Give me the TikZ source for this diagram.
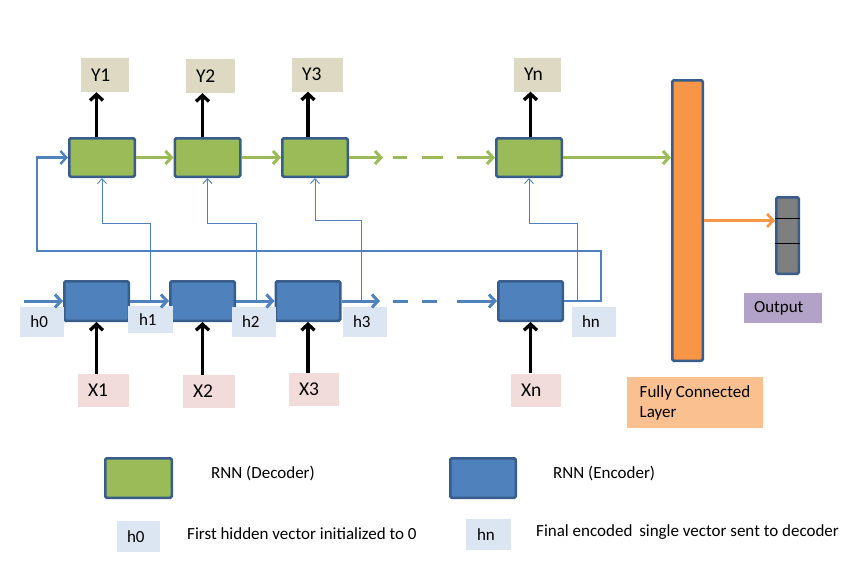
\documentclass[tikz,border=0pt]{standalone}
\usepackage{fontspec}
\setmainfont{Carlito}
\usetikzlibrary{arrows.meta,calc}
\definecolor{gfill}{HTML}{9BBB59}
\definecolor{bfill}{HTML}{4F81BD}
\definecolor{bord}{HTML}{385D8A}
\definecolor{ycol}{HTML}{DDD9C3}
\definecolor{xcol}{HTML}{F2DCDB}
\definecolor{hcol}{HTML}{DCE6F2}
\definecolor{fccol}{HTML}{F79646}
\definecolor{fclab}{HTML}{FAC090}
\definecolor{outcol}{HTML}{7F7F7F}
\definecolor{outlab}{HTML}{B3A2C7}
\newcommand\bigf{\fontsize{19.5}{22}\selectfont}
\newcommand\midf{\fontsize{17}{20}\selectfont}
\begin{document}
\begin{tikzpicture}[x=1pt,y=-1pt,
  cell/.style={draw=bord, line width=2.5pt, rounded corners=1.5pt, inner sep=0pt},
  dec/.style={cell, fill=gfill, minimum width=65.5pt, minimum height=38.5pt},
  enc/.style={cell, fill=bfill, minimum width=64.5pt, minimum height=39.5pt},
  lbl/.style={text width=#1, inner xsep=10pt, inner ysep=0pt, align=left},
  ylab/.style={lbl=#1, fill=ycol, minimum height=34pt, font=\bigf},
  xlab/.style={lbl=#1, fill=xcol, minimum height=33pt, font=\bigf},
  hlab/.style={lbl=#1, fill=hcol, minimum height=30pt, font=\midf},
  legtext/.style={anchor=west, inner sep=0pt, font=\midf},
  blk/.style={draw=black, line width=3.3pt, -{Straight Barb[length=6pt,width=13pt]}},
  garr/.style={draw=gfill, line width=3pt, -{Straight Barb[length=6pt,width=13pt]}},
  gline/.style={draw=gfill, line width=3pt},
  barr/.style={draw=bfill, line width=3pt, -{Straight Barb[length=6pt,width=13pt]}},
  bline/.style={draw=bfill, line width=3pt},
  thinb/.style={draw=bfill, line width=0.9pt, -{Straight Barb[length=5pt,width=9pt]}},
  fbk/.style={draw=bfill, line width=2.4pt, -{Straight Barb[length=6pt,width=13pt]}},
  oarr/.style={draw=fccol, line width=2.7pt, -{Straight Barb[length=6pt,width=13pt]}}
]
\useasboundingbox (0,0) rectangle (859,562);

% decoder cells
\node[dec] (d1) at (102,157.5) {};
\node[dec] (d2) at (207.5,157.5) {};
\node[dec] (d3) at (315,157.5) {};
\node[dec] (dn) at (529,157.5) {};
% encoder cells
\node[enc] (e1) at (96.5,301) {};
\node[enc] (e2) at (202.5,301) {};
\node[enc] (e3) at (308,301) {};
\node[enc] (en) at (530.5,301) {};

% output labels
\node[ylab=28pt] (Y1) at (105,75) {Y1};
\node[ylab=29pt] (Y2) at (210.5,76) {Y2};
\node[ylab=31pt] (Y3) at (317.5,74.5) {Y3};
\node[ylab=27pt] (Yn) at (537.5,74.5) {Yn};
% input labels
\node[xlab=31pt] (X1) at (103.5,390.5) {X1};
\node[xlab=32pt] (X2) at (209,391.5) {X2};
\node[xlab=30pt] (X3) at (314,389.5) {X3};
\node[xlab=30pt] (Xn) at (536,390) {Xn};
% hidden labels
\node[hlab=22pt, inner xsep=11pt] (h0) at (41.5,322) {h0};
\node[hlab=23pt, inner xsep=11pt, minimum height=27pt] (h1) at (150.5,319.5) {h1};
\node[hlab=24pt] (h2) at (254,322) {h2};
\node[hlab=24pt] (h3) at (365,322) {h3};
\node[hlab=24pt] (hn) at (594,322) {hn};

% fully connected and output
\node[cell, fill=fccol, minimum width=30.5pt, minimum height=280.5pt] (fc) at (687.5,220.5) {};
\node[cell, fill=outcol, minimum width=22.5pt, minimum height=76.5pt] (out) at (787.5,235.5) {};
\draw[black, line width=0.9pt] (out.west |- 0,218) -- (out.east |- 0,218);
\draw[black, line width=0.9pt] (out.west |- 0,243) -- (out.east |- 0,243);
\node[lbl=58pt, fill=outlab, minimum height=30pt, font=\midf] (outl) at (783,308) {Output};
\node[fill=fclab, align=left, inner sep=0pt, minimum width=136pt, minimum height=51pt, font=\midf] (fcl) at (695,402.5) {Fully Connected\\Layer};

% black arrows
\draw[blk] (e1.center |- X1.north) -- (e1.south);
\draw[blk] (e2.center |- X2.north) -- (e2.south);
\draw[blk] (e3.center |- X3.north) -- (e3.south);
\draw[blk] (en.center |- Xn.north) -- (en.south);
\draw[blk] (e1.center |- d1.north) -- (e1.center |- Y1.south);
\draw[blk] (e2.center |- d2.north) -- (e2.center |- Y2.south);
\draw[blk] (e3.center |- d3.north) -- (e3.center |- Y3.south);
\draw[blk] (en.center |- dn.north) -- (en.center |- Yn.south);

% decoder chain
\coordinate (g3) at (383,157.5);
\coordinate (gd1) at (393,157.5);
\coordinate (gd2) at (443,157.5);
\coordinate (gd3) at (457,157.5);
\draw[garr] (d1.east) -- (d2.west);
\draw[garr] (d2.east) -- (d3.west);
\draw[garr] (d3.east) -- (g3);
\draw[gline, dash pattern=on 14pt off 15pt on 21pt off 60pt] (gd1) -- (gd2);
\draw[garr] (gd3) -- (dn.west);
\draw[garr] (dn.east) -- (dn.east -| fc.west);

% encoder chain
\coordinate (h0s) at (24,301);
\coordinate (b3) at (380,301);
\coordinate (bd1) at (393,301);
\coordinate (bd2) at (437,301);
\coordinate (bd3) at (457,301);
\draw[barr] (h0s) -- (e1.west);
\draw[barr] (e1.east) -- (e2.west);
\draw[barr] (e2.east) -- (e3.west);
\draw[barr] (e3.east) -- (b3);
\draw[bline, dash pattern=on 15pt off 14pt] (bd1) -- (bd2);
\draw[barr] (bd3) -- (en.west);

% feedback of final hidden vector
\coordinate (fbr) at (601,251);
\coordinate (fbl) at (37,251);
\draw[fbk] (en.east) -| (fbr) -- (fbl) |- (d1.west);

% thin links from hidden states to decoder
\coordinate (t1) at (150,301);
\coordinate (t2) at (256,301);
\coordinate (t3) at (361,301);
\coordinate (tn) at (577,301);
\draw[thinb] (t1) |- ($(d1.south)+(0,45)$) -- (d1.south);
\draw[thinb] (t2) |- ($(d2.south)+(0,45)$) -- (d2.south);
\draw[thinb] (t3) |- ($(d3.south)+(0,42)$) -- (d3.south);
\draw[thinb] (tn) |- ($(dn.south)+(0,45)$) -- (dn.south);

\draw[oarr] (fc.east) -- (fc.east -| out.west);

% legend
\node[dec, minimum width=66.5pt, minimum height=39.5pt] (lg) at (138.5,478) {};
\node[enc, minimum width=65.5pt, minimum height=39.5pt] (lb) at (483,478) {};
\node[legtext] (lgt) at (211,473) {RNN (Decoder)};
\node[legtext] (lbt) at (553,473) {RNN (Encoder)};
\node[hlab=23pt, minimum height=31pt] (lh0) at (138.5,536.5) {h0};
\node[hlab=23pt, inner xsep=11pt, minimum height=31pt] (lhn) at (488.5,534.5) {hn};
\node[legtext] (lh0t) at (187,534) {First hidden vector initialized to 0};
\node[legtext] (lhnt) at (536,532) {Final encoded\hspace{3pt} single vector sent to decoder};
\end{tikzpicture}
\end{document}
